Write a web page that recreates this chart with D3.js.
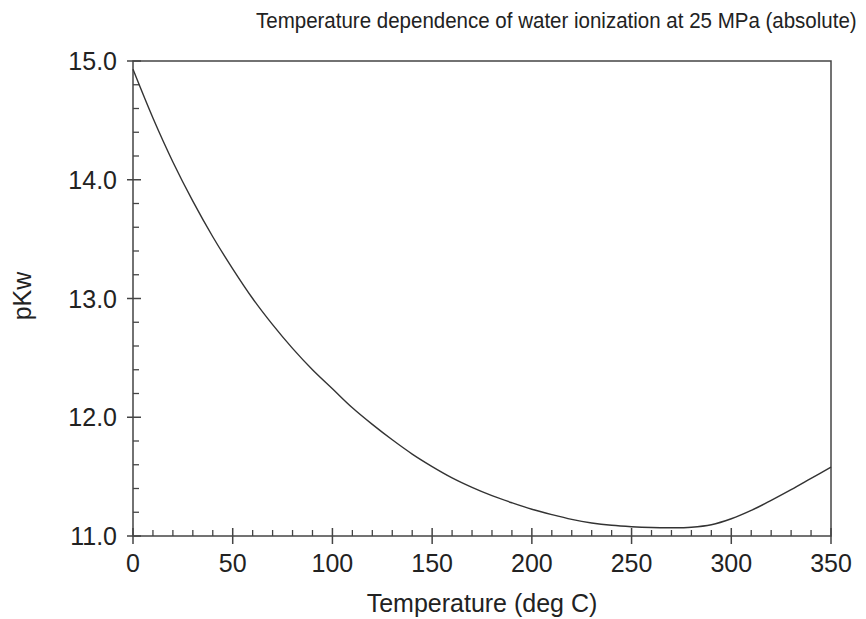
<!DOCTYPE html>
<html><head><meta charset="utf-8">
<script src="https://cdn.jsdelivr.net/npm/d3@7"></script>
<style>body{margin:0;background:#fff;}svg{display:block;font-family:"Liberation Sans",Arial,sans-serif;}</style>
</head><body>
<svg id="c" width="866" height="619"></svg>
<script>
const temperature = [0,10,20,30,40,50,60,70,80,90,100,110,120,130,140,150,160,170,180,190,200,210,220,230,240,250,260,270,280,290,300,310,320,330,340,350];
const pKw = [14.93,14.52,14.15,13.82,13.52,13.25,13.00,12.78,12.58,12.40,12.24,12.08,11.94,11.81,11.69,11.585,11.49,11.41,11.34,11.28,11.225,11.18,11.14,11.11,11.09,11.078,11.071,11.069,11.074,11.095,11.145,11.215,11.30,11.39,11.485,11.58];
const xTicks = [0,50,100,150,200,250,300,350];
const yTicks = [11,12,13,14,15];
const title = "Temperature dependence of water ionization at 25 MPa (absolute)";
const xLabel = "Temperature (deg C)";
const yLabel = "pKw";

const svg = d3.select("#c");
const L=133, R=831, T=61, B=536;
const x = d3.scaleLinear().domain([0,350]).range([L,R]);
const y = d3.scaleLinear().domain([11,15]).range([B,T]);
const axisCol="#444", textCol="#222";

svg.append("rect").attr("x",L).attr("y",T).attr("width",R-L).attr("height",B-T)
  .attr("fill","none").attr("stroke",axisCol).attr("stroke-width",1.5);

const xMinor = d3.range(0,351,10).filter(v=>v%50!==0);
svg.append("g").selectAll("line").data(xMinor).join("line")
  .attr("x1",d=>x(d)).attr("x2",d=>x(d)).attr("y1",B).attr("y2",B-6)
  .attr("stroke",axisCol).attr("stroke-width",1.3);
svg.append("g").selectAll("line").data(xTicks).join("line")
  .attr("x1",d=>x(d)).attr("x2",d=>x(d)).attr("y1",B+8).attr("y2",B-8)
  .attr("stroke",axisCol).attr("stroke-width",1.5);
svg.append("g").selectAll("text").data(xTicks).join("text")
  .attr("x",d=>x(d)).attr("y",572).attr("text-anchor","middle")
  .attr("font-size",25).attr("fill",textCol).text(d=>d);

const yMinor = d3.range(11,15.001,0.2).filter(v=>Math.abs(v-Math.round(v))>1e-6);
svg.append("g").selectAll("line").data(yMinor).join("line")
  .attr("x1",L).attr("x2",L+6).attr("y1",d=>y(d)).attr("y2",d=>y(d))
  .attr("stroke",axisCol).attr("stroke-width",1.3);
svg.append("g").selectAll("line").data(yTicks).join("line")
  .attr("x1",L-6).attr("x2",L+8).attr("y1",d=>y(d)).attr("y2",d=>y(d))
  .attr("stroke",axisCol).attr("stroke-width",1.5);
svg.append("g").selectAll("text").data(yTicks).join("text")
  .attr("x",L-16).attr("y",d=>y(d)+9).attr("text-anchor","end")
  .attr("font-size",25).attr("fill",textCol).text(d=>d.toFixed(1));

const line = d3.line().x((d,i)=>x(temperature[i])).y(d=>y(d)).curve(d3.curveCatmullRom.alpha(0.5));
svg.append("path").datum(pKw).attr("d",line).attr("fill","none")
  .attr("stroke","#333").attr("stroke-width",1.4);

svg.append("text").attr("transform","translate(256,28) scale(0.912,1)").attr("text-anchor","start")
  .attr("font-size",22.5).attr("fill",textCol).text(title);
svg.append("text").attr("x",482).attr("y",612).attr("text-anchor","middle")
  .attr("font-size",25).attr("fill",textCol).text(xLabel);
svg.append("text").attr("transform","translate(31,296) rotate(-90)").attr("text-anchor","middle")
  .attr("font-size",25).attr("fill",textCol).text(yLabel);
</script>
</body></html>
